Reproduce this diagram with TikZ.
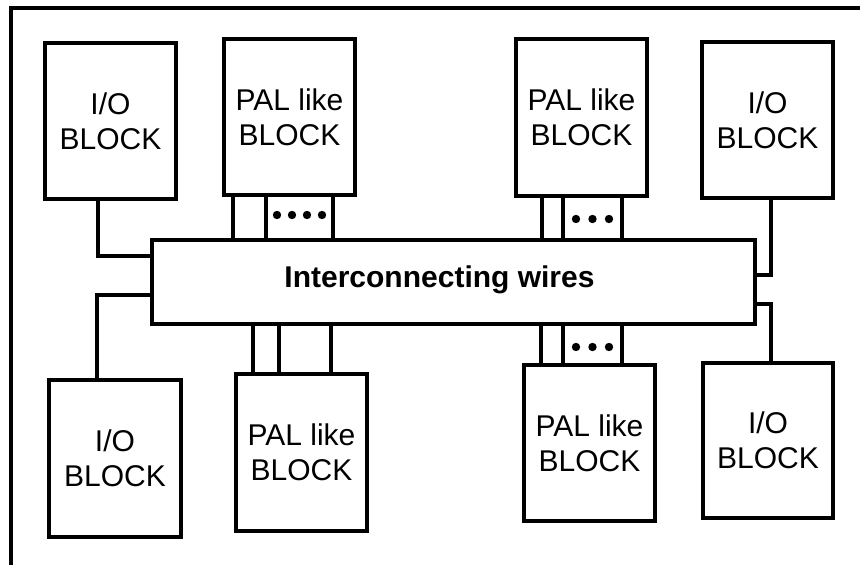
\documentclass[tikz,border=0pt]{standalone}
\usepackage{fontspec}
\setmainfont{Liberation Sans}
\begin{document}
\begin{tikzpicture}[x=1pt,y=-1pt,
  blk/.style={draw,line width=3.5pt,inner sep=0pt,outer sep=0pt,align=center,
    font=\fontsize{30}{35}\selectfont},
  wire/.style={line width=3.5pt},
  frameline/.style={line width=3.5pt}]
\useasboundingbox (0,0) rectangle (860,565);
\fill[white] (0,0) rectangle (860,565);
% outer frame (only left and top visible)
\draw[frameline] (11,566) -- (11,8) -- (862,8);
% blocks
\node[blk,minimum width=131pt,minimum height=156pt] (io1)  at (110.5,121) {I/O\\BLOCK};
\node[blk,minimum width=131pt,minimum height=156pt] (pal1) at (289.5,117) {PAL like\\BLOCK};
\node[blk,minimum width=131pt,minimum height=157pt] (pal2) at (581.5,117.5) {PAL like\\BLOCK};
\node[blk,minimum width=131pt,minimum height=156pt] (io2)  at (767.5,120) {I/O\\BLOCK};
\node[blk,minimum width=132pt,minimum height=157pt] (io3)  at (115,458.5) {I/O\\BLOCK};
\node[blk,minimum width=131pt,minimum height=157pt] (pal3) at (301.5,452.5) {PAL like\\BLOCK};
\node[blk,minimum width=131pt,minimum height=156pt] (pal4) at (589.5,443) {PAL like\\BLOCK};
\node[blk,minimum width=130pt,minimum height=155pt] (io4)  at (768,440.5) {I/O\\BLOCK};
% interconnect
\node[blk,minimum width=603pt,minimum height=84pt] (ic) at (453.5,282) {};
\node[anchor=base,inner sep=0pt,font=\fontsize{30}{35}\selectfont\bfseries] (ictext) at (439.5,287) {Interconnecting wires};
% I/O connections
\draw[wire] ([xshift=53pt]io1.south west) |- ([yshift=-16pt]ic.north west);
\draw[wire] ([xshift=48pt]io3.north west) |- ([yshift=-55pt]ic.north west);
\draw[wire] ([xshift=69pt]io2.south west) |- ([yshift=-35pt]ic.north east);
\draw[wire] ([xshift=68pt]io4.north west) |- ([yshift=-64pt]ic.north east);
% PAL 1 wires
\foreach \dx in {9,42,109} {
  \draw[wire] ([xshift=\dx pt]pal1.south west) -- ([xshift=\dx pt]pal1.south west |- ic.north);
}
% PAL 2 wires
\foreach \dx in {26,47,106} {
  \draw[wire] ([xshift=\dx pt]pal2.south west) -- ([xshift=\dx pt]pal2.south west |- ic.north);
}
% PAL 3 wires
\foreach \dx in {17,43,95} {
  \draw[wire] ([xshift=\dx pt]pal3.north west) -- ([xshift=\dx pt]pal3.north west |- ic.south);
}
% PAL 4 wires
\foreach \dx in {17,39,98} {
  \draw[wire] ([xshift=\dx pt]pal4.north west) -- ([xshift=\dx pt]pal4.north west |- ic.south);
}
% dots
\foreach \x in {277,292,307,322} { \fill (\x,215) circle (4.2pt); }
\foreach \x in {576,592.5,609} { \fill (\x,219) circle (4.2pt); }
\foreach \x in {576,592.5,609} { \fill (\x,347) circle (4.2pt); }
\end{tikzpicture}
\end{document}
